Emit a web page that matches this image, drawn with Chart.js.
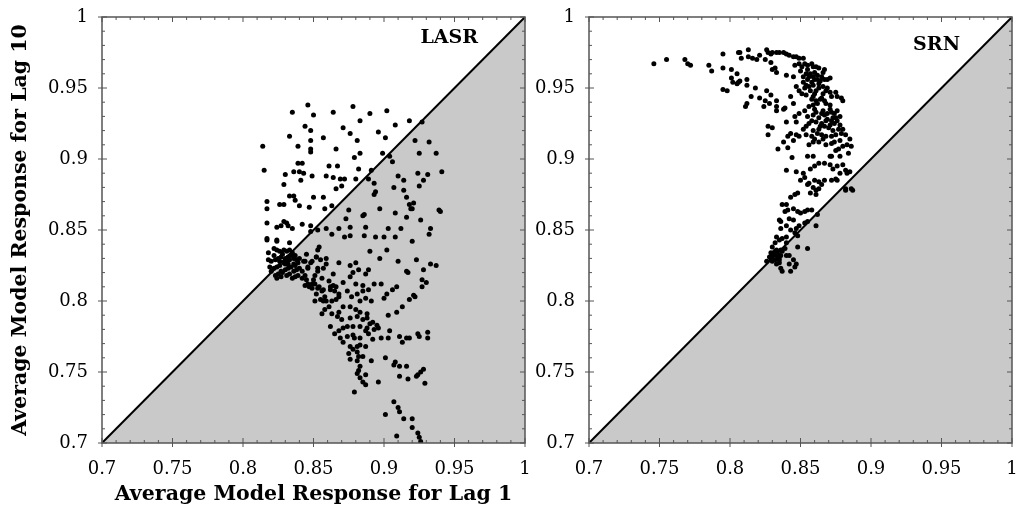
<!DOCTYPE html>
<html lang="en">
<head>
<meta charset="UTF-8">
<title>LASR vs SRN</title>
<script src="https://cdn.jsdelivr.net/npm/chart.js"></script>
<style>
  html, body { margin: 0; background: #fff; overflow: hidden; width: 1017px; height: 513px; }
  .panel { position: absolute; top: 0; }
  #lasrWrap { left: 0; }
  #srnWrap { left: 528px; }
  canvas { display: block; }
</style>
</head>
<body>
<div class="panel" id="lasrWrap"><canvas id="lasrChart" width="540" height="513"></canvas></div>
<div class="panel" id="srnWrap"><canvas id="srnChart" width="505" height="513"></canvas></div>
<script>
const axisMin = 0.7, axisMax = 1;
const tickLabels = ['0.7', '0.75', '0.8', '0.85', '0.9', '0.95', '1'];
const xTitle = 'Average Model Response for Lag 1';
const yTitle = 'Average Model Response for Lag 10';

// [lag 1, lag 10] per item
const lasrPoints = [
  [0.846,0.938],[0.835,0.933],[0.850,0.931],[0.878,0.937],[0.864,0.933],[0.890,0.932],[0.902,0.934],[0.883,0.927],
  [0.908,0.924],[0.918,0.927],[0.927,0.926],[0.844,0.923],[0.848,0.920],[0.871,0.922],[0.876,0.918],[0.896,0.919],
  [0.833,0.916],[0.848,0.913],[0.857,0.915],[0.881,0.913],[0.901,0.915],[0.922,0.913],[0.932,0.912],[0.814,0.909],
  [0.839,0.909],[0.848,0.907],[0.848,0.905],[0.866,0.907],[0.883,0.904],[0.879,0.901],[0.899,0.904],[0.925,0.904],
  [0.937,0.904],[0.904,0.902],[0.839,0.897],[0.842,0.897],[0.861,0.895],[0.867,0.895],[0.906,0.898],[0.882,0.893],
  [0.891,0.892],[0.815,0.892],[0.836,0.891],[0.840,0.891],[0.843,0.890],[0.830,0.889],[0.849,0.888],[0.859,0.888],
  [0.864,0.887],[0.869,0.886],[0.872,0.886],[0.880,0.886],[0.889,0.886],[0.910,0.888],[0.924,0.890],[0.941,0.891],
  [0.928,0.885],[0.931,0.889],[0.841,0.885],[0.829,0.882],[0.870,0.881],[0.866,0.879],[0.893,0.883],[0.907,0.880],
  [0.914,0.885],[0.925,0.881],[0.836,0.874],[0.833,0.874],[0.837,0.871],[0.850,0.873],[0.857,0.873],[0.863,0.867],
  [0.894,0.877],[0.893,0.875],[0.914,0.878],[0.916,0.873],[0.918,0.868],[0.921,0.869],[0.817,0.870],[0.817,0.865],
  [0.826,0.868],[0.829,0.868],[0.840,0.867],[0.847,0.866],[0.858,0.865],[0.875,0.864],[0.886,0.861],[0.885,0.860],
  [0.897,0.865],[0.908,0.862],[0.916,0.859],[0.919,0.865],[0.920,0.865],[0.939,0.864],[0.940,0.863],[0.873,0.858],
  [0.829,0.856],[0.831,0.855],[0.832,0.853],[0.827,0.853],[0.824,0.852],[0.817,0.855],[0.842,0.854],[0.848,0.853],
  [0.835,0.851],[0.859,0.851],[0.868,0.851],[0.853,0.850],[0.876,0.852],[0.887,0.852],[0.903,0.851],[0.912,0.851],
  [0.926,0.857],[0.933,0.851],
  [0.817,0.844],[0.824,0.843],[0.833,0.841],[0.854,0.838],[0.848,0.849],[0.863,0.847],[0.872,0.845],[0.876,0.846],
  [0.886,0.846],[0.894,0.845],[0.900,0.845],[0.908,0.845],[0.920,0.842],[0.932,0.847],[0.890,0.835],[0.902,0.836],
  [0.923,0.829],[0.910,0.828],[0.897,0.830],[0.868,0.827],[0.876,0.825],[0.880,0.827],[0.845,0.833],[0.852,0.831],
  [0.855,0.829],[0.859,0.826],[0.848,0.827],[0.843,0.828],[0.846,0.823],[0.853,0.823],[0.882,0.822],[0.878,0.820],
  [0.887,0.819],[0.889,0.822],[0.876,0.817],[0.864,0.819],[0.871,0.813],[0.880,0.812],[0.885,0.811],[0.893,0.812],
  [0.898,0.812],[0.916,0.821],[0.917,0.820],[0.928,0.822],[0.933,0.826],[0.937,0.825],[0.927,0.815],[0.930,0.813],
  [0.927,0.810],[0.856,0.816],[0.861,0.814],[0.849,0.812],[0.854,0.810],[0.857,0.808],[0.862,0.808],[0.866,0.810],
  [0.868,0.805],[0.874,0.807],[0.877,0.803],[0.881,0.805],[0.885,0.807],[0.889,0.808],[0.883,0.800],[0.887,0.802],
  [0.891,0.800],[0.902,0.805],[0.906,0.808],[0.909,0.810],[0.900,0.802],[0.921,0.804],[0.918,0.801],[0.922,0.803],
  [0.851,0.800],[0.857,0.800],[0.861,0.796],[0.858,0.794],[0.866,0.801],[0.871,0.796],[0.876,0.796],[0.880,0.794],
  [0.883,0.792],[0.888,0.791],[0.856,0.791],[0.863,0.791],[0.868,0.792],[0.867,0.789],[0.870,0.787],[0.876,0.788],
  [0.881,0.789],[0.885,0.787],[0.888,0.788],[0.890,0.784],[0.892,0.785],[0.895,0.783],[0.913,0.796],[0.909,0.792],
  [0.903,0.790],[0.862,0.782],[0.871,0.781],[0.874,0.782],[0.878,0.782],[0.883,0.782],[0.888,0.781],[0.887,0.779],
  [0.889,0.777],[0.893,0.780],[0.896,0.781],[0.868,0.779],[0.865,0.777],[0.869,0.774],[0.874,0.775],[0.878,0.776],
  [0.879,0.774],[0.883,0.774],[0.892,0.773],[0.898,0.774],[0.903,0.774],[0.904,0.779],[0.911,0.775],[0.916,0.774],
  [0.918,0.774],[0.913,0.771],[0.924,0.777],[0.925,0.775],[0.931,0.778],[0.931,0.774],[0.871,0.771],[0.876,0.768],
  [0.881,0.768],[0.883,0.769],[0.887,0.768],[0.878,0.766],[0.881,0.764],[0.875,0.763],[0.876,0.759],[0.882,0.761],
  [0.885,0.761],[0.881,0.758],[0.891,0.758],[0.901,0.760],[0.908,0.757],[0.907,0.755],[0.911,0.754],[0.916,0.754],
  [0.928,0.752],[0.926,0.750],[0.924,0.748],[0.923,0.747],[0.883,0.754],[0.882,0.751],[0.881,0.749],[0.887,0.748],
  [0.883,0.746],[0.885,0.743],[0.887,0.741],[0.896,0.743],[0.911,0.747],[0.917,0.745],[0.929,0.742],[0.879,0.736],
  [0.907,0.729],[0.910,0.725],[0.911,0.722],[0.901,0.720],[0.914,0.717],[0.920,0.717],[0.920,0.711],[0.909,0.705],
  [0.924,0.707],[0.925,0.704],[0.926,0.701],
  [0.818,0.834],[0.822,0.837],[0.824,0.836],[0.826,0.835],[0.829,0.836],[0.831,0.835],[0.833,0.836],[0.835,0.834],
  [0.837,0.832],[0.832,0.831],[0.830,0.830],[0.827,0.831],[0.825,0.830],[0.823,0.829],[0.820,0.828],[0.819,0.824],
  [0.822,0.823],[0.824,0.824],[0.826,0.825],[0.829,0.827],[0.831,0.828],[0.833,0.829],[0.836,0.830],[0.838,0.829],
  [0.839,0.827],[0.837,0.825],[0.834,0.824],[0.832,0.823],[0.830,0.822],[0.827,0.821],[0.825,0.819],[0.823,0.818],
  [0.820,0.821],[0.824,0.816],[0.827,0.817],[0.831,0.818],[0.833,0.819],[0.836,0.821],[0.838,0.822],[0.840,0.823],
  [0.842,0.821],[0.839,0.818],[0.837,0.817],[0.835,0.816],[0.842,0.816],[0.844,0.818],[0.845,0.815],[0.846,0.812],
  [0.847,0.810],[0.849,0.809],[0.844,0.811],[0.851,0.812],[0.850,0.815],[0.853,0.809],[0.856,0.807],[0.852,0.805],
  [0.858,0.803],[0.855,0.801],[0.859,0.800],[0.863,0.800],[0.865,0.807],[0.868,0.803],[0.864,0.811],[0.862,0.810],
  [0.846,0.824],[0.844,0.828],[0.849,0.828],[0.852,0.831],[0.853,0.836],[0.859,0.830],[0.857,0.823],[0.853,0.821],
  [0.851,0.818],[0.817,0.843],[0.824,0.842],[0.828,0.833],[0.830,0.826],[0.834,0.832],[0.826,0.828],[0.832,0.826],
  [0.836,0.826],[0.822,0.832],[0.828,0.820],[0.840,0.830],[0.818,0.829]
];

const srnPoints = [
  [0.746,0.967],[0.755,0.970],[0.768,0.970],[0.770,0.967],[0.772,0.966],[0.785,0.966],[0.787,0.962],[0.795,0.974],
  [0.795,0.964],[0.801,0.963],[0.806,0.975],[0.807,0.975],[0.813,0.977],[0.808,0.971],[0.813,0.972],[0.816,0.971],
  [0.819,0.970],[0.821,0.973],[0.805,0.960],[0.801,0.957],[0.802,0.954],[0.806,0.954],[0.807,0.955],[0.812,0.956],
  [0.812,0.952],[0.795,0.949],[0.798,0.948],[0.805,0.953],[0.818,0.950],[0.815,0.944],[0.812,0.939],[0.811,0.937],
  [0.821,0.943],[0.826,0.948],[0.829,0.945],[0.825,0.941],[0.828,0.939],[0.824,0.937],[0.833,0.941],[0.833,0.937],
  [0.833,0.934],[0.838,0.935],[0.839,0.936],[0.827,0.923],[0.830,0.922],[0.827,0.917],[0.834,0.907],[0.838,0.912],
  [0.841,0.908],[0.840,0.926],[0.843,0.944],[0.845,0.939],[0.846,0.930],[0.847,0.926],[0.844,0.901],[0.841,0.916],
  [0.843,0.918],
  [0.826,0.977],[0.827,0.975],[0.829,0.974],[0.830,0.975],[0.833,0.975],[0.835,0.975],[0.838,0.975],[0.840,0.974],
  [0.842,0.973],[0.845,0.972],[0.847,0.972],[0.849,0.971],[0.852,0.971],[0.825,0.970],[0.829,0.968],[0.832,0.964],
  [0.833,0.961],[0.830,0.963],[0.840,0.959],[0.845,0.958],[0.846,0.966],[0.849,0.967],[0.853,0.967],[0.855,0.966],
  [0.858,0.967],[0.859,0.965],[0.861,0.965],[0.863,0.964],[0.867,0.963],[0.854,0.960],[0.856,0.958],[0.859,0.958],
  [0.860,0.956],[0.862,0.956],[0.865,0.958],[0.867,0.956],[0.869,0.956],[0.871,0.957],[0.852,0.954],[0.854,0.952],
  [0.856,0.951],[0.859,0.952],[0.861,0.948],[0.863,0.950],[0.866,0.951],[0.868,0.948],[0.871,0.947],[0.872,0.944],
  [0.875,0.947],[0.876,0.944],[0.879,0.943],[0.880,0.941],[0.849,0.948],[0.847,0.951],[0.851,0.946],[0.854,0.945],
  [0.859,0.944],[0.861,0.941],[0.865,0.943],[0.867,0.941],[0.868,0.939],[0.871,0.938],[0.859,0.938],[0.856,0.937],
  [0.853,0.934],[0.849,0.932],[0.855,0.930],[0.859,0.931],[0.861,0.933],[0.865,0.932],[0.867,0.931],[0.869,0.932],
  [0.872,0.933],[0.874,0.932],[0.876,0.934],[0.878,0.930],[0.875,0.929],[0.872,0.927],[0.868,0.927],[0.865,0.925],
  [0.861,0.926],[0.856,0.925],[0.854,0.923],[0.852,0.921],[0.859,0.920],[0.863,0.921],[0.867,0.923],[0.871,0.924],
  [0.874,0.925],[0.878,0.924],[0.880,0.921],[0.854,0.917],[0.858,0.916],[0.860,0.914],[0.849,0.916],[0.847,0.917],
  [0.845,0.913],[0.865,0.917],[0.868,0.916],[0.872,0.916],[0.875,0.917],[0.879,0.918],[0.882,0.917],[0.885,0.914],
  [0.878,0.913],[0.874,0.912],[0.872,0.911],[0.868,0.910],[0.863,0.912],[0.859,0.912],[0.856,0.910],[0.883,0.910],
  [0.880,0.909],[0.877,0.907],[0.875,0.906],[0.871,0.902],[0.872,0.902],[0.878,0.902],[0.859,0.902],[0.855,0.902],
  [0.884,0.904],[0.886,0.909],
  [0.850,0.962],[0.852,0.958],[0.855,0.963],[0.857,0.960],[0.860,0.961],[0.862,0.959],[0.864,0.955],[0.858,0.954],
  [0.855,0.956],[0.853,0.950],[0.857,0.948],[0.860,0.946],[0.863,0.953],[0.866,0.946],[0.869,0.950],[0.864,0.942],
  [0.858,0.942],[0.862,0.939],[0.851,0.965],[0.866,0.961],[0.860,0.935],[0.863,0.929],[0.866,0.934],[0.869,0.928],
  [0.871,0.935],[0.873,0.929],[0.876,0.927],[0.870,0.922],[0.864,0.923],[0.858,0.927],[0.873,0.920],[0.877,0.921],
  [0.862,0.918],[0.866,0.914],
  [0.840,0.892],[0.847,0.891],[0.852,0.890],[0.853,0.887],[0.850,0.885],[0.857,0.893],[0.860,0.895],[0.863,0.897],
  [0.867,0.897],[0.871,0.896],[0.873,0.893],[0.876,0.895],[0.880,0.896],[0.882,0.892],[0.885,0.891],[0.878,0.890],
  [0.875,0.886],[0.872,0.885],[0.867,0.885],[0.863,0.884],[0.860,0.885],[0.856,0.883],[0.855,0.882],[0.859,0.880],
  [0.861,0.878],[0.863,0.879],[0.865,0.882],[0.876,0.885],[0.883,0.890],[0.882,0.878],[0.887,0.878],[0.857,0.876],
  [0.861,0.875],[0.843,0.873],[0.846,0.875],[0.848,0.876],[0.837,0.868],[0.840,0.868],[0.841,0.864],[0.839,0.863],
  [0.845,0.865],[0.848,0.863],[0.850,0.862],[0.853,0.863],[0.855,0.864],[0.858,0.864],[0.862,0.861],[0.842,0.858],
  [0.845,0.857],[0.835,0.857],[0.836,0.856],[0.840,0.853],[0.836,0.851],[0.843,0.850],[0.847,0.851],[0.849,0.853],
  [0.853,0.855],[0.855,0.856],[0.861,0.853],[0.846,0.848],[0.848,0.846],[0.833,0.845],[0.835,0.843],[0.837,0.844],
  [0.840,0.845],[0.832,0.841],[0.830,0.838],[0.833,0.836],[0.834,0.833],[0.835,0.831],[0.836,0.832],[0.837,0.835],
  [0.839,0.837],[0.830,0.832],[0.828,0.831],[0.826,0.828],[0.829,0.830],[0.832,0.829],[0.833,0.826],[0.835,0.829],
  [0.840,0.832],[0.842,0.832],[0.845,0.829],[0.847,0.826],[0.846,0.824],[0.842,0.826],[0.836,0.823],[0.837,0.821],
  [0.843,0.821],[0.848,0.838],[0.855,0.837],[0.840,0.841],[0.882,0.879],[0.886,0.879],
  [0.831,0.834],[0.834,0.830],[0.832,0.835],[0.830,0.828],[0.836,0.836],[0.833,0.832],[0.829,0.834],[0.835,0.827]
];

const serif = "'DejaVu Serif', 'Liberation Serif', serif";

function tickText(v) {
  const i = Math.round(v * 100) - 70;
  return i % 5 === 0 ? tickLabels[i / 5] : '';
}

// box around the plot, inward tick marks, panel name
const panelDecor = {
  id: 'panelDecor',
  afterDatasetsDraw(chart, args, opts) {
    const {ctx, chartArea: a, scales: {x, y}} = chart;
    ctx.save();
    ctx.strokeStyle = '#555';
    ctx.lineWidth = 1.5;
    ctx.strokeRect(a.left, a.top, a.right - a.left, a.bottom - a.top);
    ctx.lineWidth = 1;
    ctx.beginPath();
    x.ticks.forEach(t => {
      const p = x.getPixelForValue(t.value);
      const major = tickText(t.value) !== '';
      const len = major ? 5 : 3;
      ctx.moveTo(p, a.bottom + (major ? 4 : 0)); ctx.lineTo(p, a.bottom - len);
      ctx.moveTo(p, a.top); ctx.lineTo(p, a.top + len);
    });
    y.ticks.forEach(t => {
      const p = y.getPixelForValue(t.value);
      const major = tickText(t.value) !== '';
      const len = major ? 5 : 3;
      ctx.moveTo(a.left - (major ? 4 : 0), p); ctx.lineTo(a.left + len, p);
      ctx.moveTo(a.right, p); ctx.lineTo(a.right - len, p);
    });
    ctx.stroke();
    ctx.fillStyle = '#000';
    ctx.font = 'bold 19px ' + serif;
    ctx.textAlign = 'right';
    ctx.textBaseline = 'middle';
    ctx.fillText(opts.name, a.right - opts.dx, a.top + opts.dy);
    ctx.restore();
  }
};

function makePanel(canvasId, points, name, lay) {
  return new Chart(document.getElementById(canvasId), {
    type: 'scatter',
    data: {
      datasets: [{
        data: points.map(p => ({x: p[0], y: p[1]})),
        backgroundColor: '#000',
        pointRadius: 2.5,
        pointBorderWidth: 0,
        order: 1
      }, {
        type: 'line',
        data: [{x: axisMin, y: axisMin}, {x: axisMax, y: axisMax}],
        borderColor: '#000',
        borderWidth: 2,
        backgroundColor: '#c9c9c9',
        fill: 'start',
        pointRadius: 0,
        order: 2
      }]
    },
    options: {
      responsive: false,
      animation: false,
      devicePixelRatio: 1,
      layout: {padding: {left: 0, top: 17, right: lay.right, bottom: 0}},
      plugins: {
        legend: {display: false},
        tooltip: {enabled: false},
        panelDecor: {name: name, dx: lay.nameDx, dy: lay.nameDy}
      },
      scales: {
        x: {
          type: 'linear', min: axisMin, max: axisMax,
          grid: {display: false}, border: {display: false},
          ticks: {stepSize: 0.01, autoSkip: false, maxRotation: 0, padding: 8,
                  color: '#000', font: {family: serif, size: 18}, callback: tickText},
          title: {display: lay.titles, text: xTitle, color: '#000',
                  font: {family: serif, size: 20.5, weight: 'bold'}, padding: {top: 0, bottom: 6}},
          afterFit: s => { s.height = 70; }
        },
        y: {
          type: 'linear', min: axisMin, max: axisMax,
          grid: {display: false}, border: {display: false},
          ticks: {stepSize: 0.01, autoSkip: false, padding: 6,
                  color: '#000', font: {family: serif, size: 18}, callback: tickText},
          title: {display: lay.titles, text: yTitle, color: '#000',
                  font: {family: serif, size: 20.5, weight: 'bold'}, padding: {top: 8, bottom: 0}},
          afterFit: s => { s.width = lay.yWidth; }
        }
      }
    },
    plugins: [panelDecor]
  });
}

makePanel('lasrChart', lasrPoints, 'LASR', {right: 15, yWidth: 102, titles: true, nameDx: 47, nameDy: 21});
makePanel('srnChart', srnPoints, 'SRN', {right: 21, yWidth: 61, titles: false, nameDx: 52, nameDy: 28});
</script>
</body>
</html>
